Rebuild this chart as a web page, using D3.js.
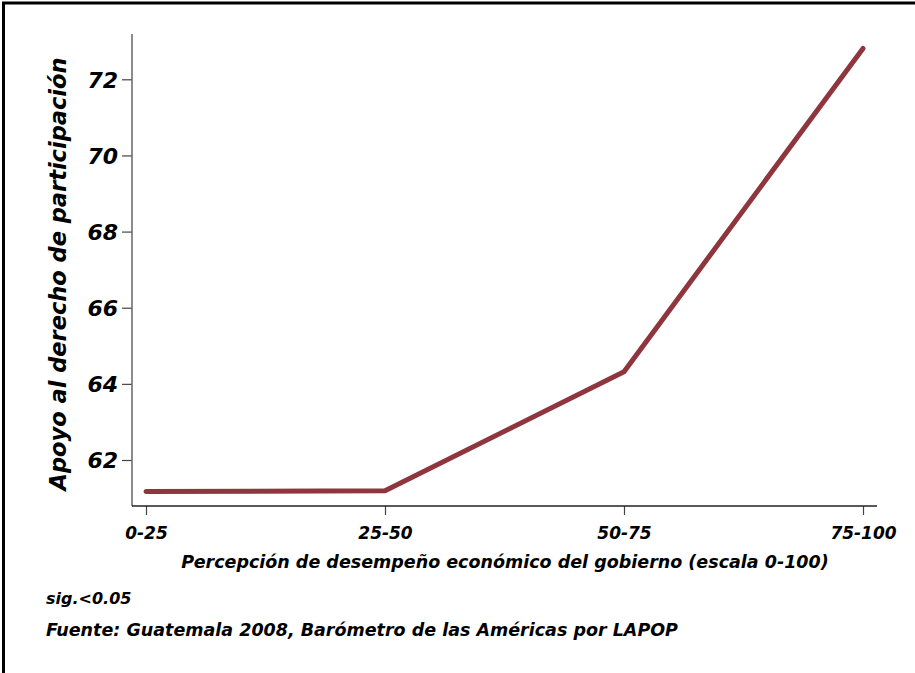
<!DOCTYPE html>
<html><head><meta charset="utf-8">
<script src="https://cdn.jsdelivr.net/npm/d3@7"></script>
<style>
html,body{margin:0;padding:0;background:#fff;}
svg text{font-family:"DejaVu Sans",sans-serif;font-weight:bold;font-style:italic;fill:#000;}
</style></head>
<body>
<svg id="chart" width="915" height="673"></svg>
<script>
const categories = ["0-25", "25-50", "50-75", "75-100"];
const values = [61.17, 61.19, 64.32, 72.81];
const yTicks = [62, 64, 66, 68, 70, 72];
const xTitle = "Percepción de desempeño económico del gobierno (escala 0-100)";
const yTitle = "Apoyo al derecho de participación";
const notes = ["sig.<0.05", "Fuente: Guatemala 2008, Barómetro de las Américas por LAPOP"];

const svg = d3.select("#chart");
svg.append("rect").attr("width", 915).attr("height", 673).attr("fill", "#fff");
// frame: top and left
svg.append("line").attr("x1", 2).attr("x2", 915).attr("y1", 3).attr("y2", 3).attr("stroke", "#000").attr("stroke-width", 3);
svg.append("line").attr("x1", 3.5).attr("x2", 3.5).attr("y1", 2).attr("y2", 673).attr("stroke", "#000").attr("stroke-width", 3);

const x = d3.scalePoint().domain(categories).range([146, 863]);
const y = d3.scaleLinear().domain([62, 72]).range([460, 79.3]);
const axisLeftX = 132, axisBottomY = 506;

// y axis
const yAxis = svg.append("g").attr("transform", `translate(${axisLeftX},0)`)
  .call(d3.axisLeft(y).tickValues(yTicks).tickSize(10).tickSizeOuter(0).tickPadding(4).tickFormat(d3.format("d")));
yAxis.select(".domain").remove();
yAxis.selectAll(".tick line").attr("stroke", "#444").attr("stroke-width", 1.2);
yAxis.selectAll(".tick text").attr("font-size", 22).attr("dy", "0.36em");
svg.append("line").attr("x1", axisLeftX).attr("x2", axisLeftX).attr("y1", 34).attr("y2", axisBottomY)
  .attr("stroke", "#666").attr("stroke-width", 1.5);

// x axis
const xAxis = svg.append("g").attr("transform", `translate(0,${axisBottomY})`)
  .call(d3.axisBottom(x).tickSize(9).tickSizeOuter(0).tickPadding(12));
xAxis.select(".domain").remove();
xAxis.selectAll(".tick line").attr("stroke", "#444").attr("stroke-width", 1.2);
xAxis.selectAll(".tick text").attr("font-size", 17);
svg.append("line").attr("x1", axisLeftX).attr("x2", 877).attr("y1", axisBottomY).attr("y2", axisBottomY)
  .attr("stroke", "#222").attr("stroke-width", 1.5);

// line
const line = d3.line().x((d, i) => x(categories[i])).y(d => y(d));
svg.append("path").datum(values).attr("d", line)
  .attr("fill", "none").attr("stroke", "#8f353d").attr("stroke-width", 5)
  .attr("stroke-linecap", "round").attr("stroke-linejoin", "round");

// titles
svg.append("text").attr("x", 505).attr("y", 568).attr("text-anchor", "middle").attr("font-size", 17.5).text(xTitle);
svg.append("text").attr("transform", "translate(66,274) rotate(-90)").attr("text-anchor", "middle")
  .attr("font-size", 22.5).text(yTitle);

svg.append("text").attr("x", 46).attr("y", 604).attr("font-size", 16).text(notes[0]);
svg.append("text").attr("x", 46).attr("y", 636).attr("font-size", 17.5).text(notes[1]);
</script>
</body></html>
